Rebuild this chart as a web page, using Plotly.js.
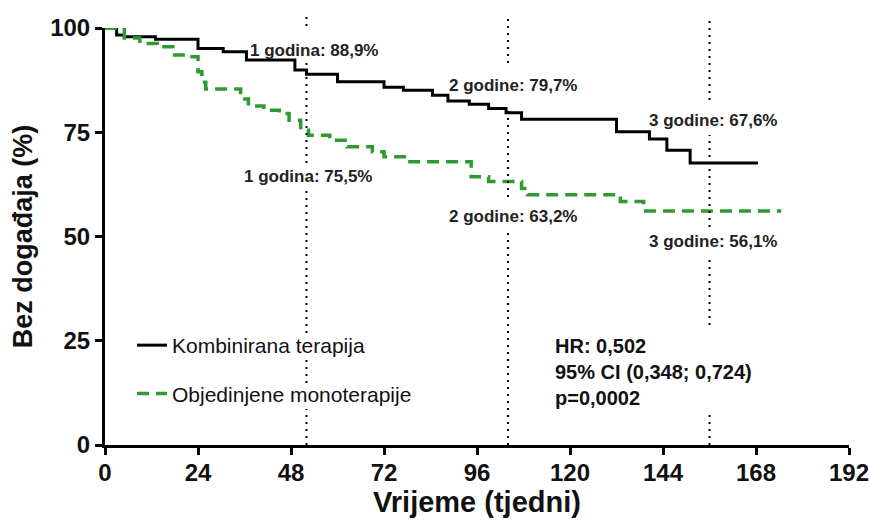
<!DOCTYPE html>
<html><head><meta charset="utf-8">
<script src="https://cdn.plot.ly/plotly-3.0.1.min.js"></script>
<style>body{margin:0;background:#fff}#chart{width:869px;height:527px}</style>
</head><body><div id="chart"></div>
<script>
// ---- data ----
const seriesNames = ['Kombinirana terapija', 'Objedinjene monoterapije'];
const comboWeeks    = [0, 3, 5, 13, 24, 30.5, 36.5, 49, 52, 60, 72, 77, 84.5, 88.5, 94, 99, 103.5, 107.5, 132, 140.5, 145, 151, 168.5];
const comboSurvival = [100, 98.3, 97.9, 97.3, 95.1, 94.3, 92.3, 89.9, 88.9, 87.1, 85.8, 85.1, 83.9, 82.5, 81.7, 80.7, 79.7, 78.1, 75.1, 73.4, 70.7, 67.6, 67.6];
const monoWeeks     = [0, 5, 9, 13.5, 17.5, 21, 24, 25, 26, 35, 37, 41, 45, 47.5, 50.5, 52.5, 58, 62.5, 69, 72, 78, 94.5, 99, 107.5, 109, 133, 139, 174.5];
const monoSurvival  = [100, 97.6, 96.3, 95.5, 93.5, 93.1, 89.5, 87, 85.4, 83, 81.3, 80.3, 79.5, 77.9, 75.5, 74.3, 73.1, 71.5, 70.3, 69.1, 67.9, 64.3, 63.2, 61.5, 60.0, 58.4, 56.1, 56.1];
const milestoneWeeks = [52, 104, 156];
const comboLabels = ['1 godina: 88,9%', '2 godine: 79,7%', '3 godine: 67,6%'];
const monoLabels  = ['1 godina: 75,5%', '2 godine: 63,2%', '3 godine: 56,1%'];
const statsLines  = ['HR: 0,502', '95% CI (0,348; 0,724)', 'p=0,0002'];
const xTicks = [0, 24, 48, 72, 96, 120, 144, 168, 192];
const yTicks = [0, 25, 50, 75, 100];
const xTitle = 'Vrijeme (tjedni)';
const yTitle = 'Bez događaja (%)';

// ---- layout helpers ----
const FONT = 'Liberation Sans, Arial, Helvetica, sans-serif';
const plotTop = 28, plotBottom = 445;
const pyToPaper = py => (plotBottom - py) / (plotBottom - plotTop);

// dotted milestone line segments (pixel y ranges, gaps left for labels)
const segmentsPx = [
  [[16, 26], [58, 163], [191, 333], [359, 383], [409, 445]],
  [[16, 63], [106, 197], [230, 445]],
  [[16, 100], [135, 227], [255, 325], [410, 445]]
];
const shapes = [];
milestoneWeeks.forEach((w, i) => {
  segmentsPx[i].forEach(s => {
    shapes.push({type: 'line', xref: 'x', yref: 'paper', x0: w, x1: w,
      y0: pyToPaper(s[1]), y1: pyToPaper(s[0]),
      line: {color: '#000', width: 2, dash: '2px,5px'}});
  });
});

const comboLabelPos = [[53.9, 94.7], [105.3, 86.3], [157, 77.7]];
const monoLabelPos  = [[52.3, 64.3], [105.3, 54.7], [156.8, 48.8]];
const annotations = [];
comboLabels.forEach((t, i) => annotations.push({x: comboLabelPos[i][0], y: comboLabelPos[i][1], text: t, showarrow: false,
  font: {family: FONT, size: 17, color: '#222', weight: 'bold'}}));
monoLabels.forEach((t, i) => annotations.push({x: monoLabelPos[i][0], y: monoLabelPos[i][1], text: t, showarrow: false,
  font: {family: FONT, size: 17, color: '#222', weight: 'bold'}}));
annotations.push({x: 115.6, y: 17.6, xanchor: 'left', align: 'left', showarrow: false,
  text: statsLines.join('<br>'), font: {family: FONT, size: 20, color: '#111', weight: 'bold'}});

const traces = [
  {x: comboWeeks, y: comboSurvival, name: seriesNames[0], type: 'scatter', mode: 'lines',
   line: {shape: 'hv', color: '#000', width: 3}, cliponaxis: false, legendgroup: 'a'},
  {x: monoWeeks, y: monoSurvival, name: seriesNames[1], type: 'scatter', mode: 'lines',
   line: {shape: 'hv', color: '#2f9a2f', width: 3.5, dash: '12px,7px'}, cliponaxis: false, legendgroup: 'b'}
];

const axisCommon = {showline: true, linecolor: '#000', linewidth: 3, ticks: 'outside', ticklen: 7, tickwidth: 3,
  tickcolor: '#000', showgrid: false, zeroline: false, fixedrange: true, ticklabeloverflow: 'allow',
  tickfont: {family: FONT, size: 24, color: '#111', weight: 'bold'}};

const layout = {
  width: 869, height: 527,
  margin: {l: 105, r: 20, t: plotTop, b: 527 - plotBottom},
  paper_bgcolor: '#fff', plot_bgcolor: '#fff',
  font: {family: FONT, color: '#111'},
  xaxis: Object.assign({}, axisCommon, {range: [0, 192], tickvals: xTicks, ticktext: xTicks.map(String),
    ticklabelstandoff: -3,
    title: {text: xTitle, font: {family: FONT, size: 29, color: '#111', weight: 'bold'}, standoff: 6}}),
  yaxis: Object.assign({}, axisCommon, {range: [0, 100], tickvals: yTicks, ticktext: yTicks.map(String),
    title: {text: yTitle, font: {family: FONT, size: 27, color: '#111', weight: 'bold'}, standoff: 10}}),
  showlegend: true,
  legend: {x: (132 - 105) / 744, y: pyToPaper(325), xanchor: 'left', yanchor: 'top',
    bgcolor: 'rgba(0,0,0,0)', traceorder: 'grouped', tracegroupgap: 18,
    font: {family: FONT, size: 21, color: '#111'}},
  shapes: shapes,
  annotations: annotations
};

Plotly.newPlot('chart', traces, layout, {staticPlot: true, displayModeBar: false});
</script>
</body></html>
